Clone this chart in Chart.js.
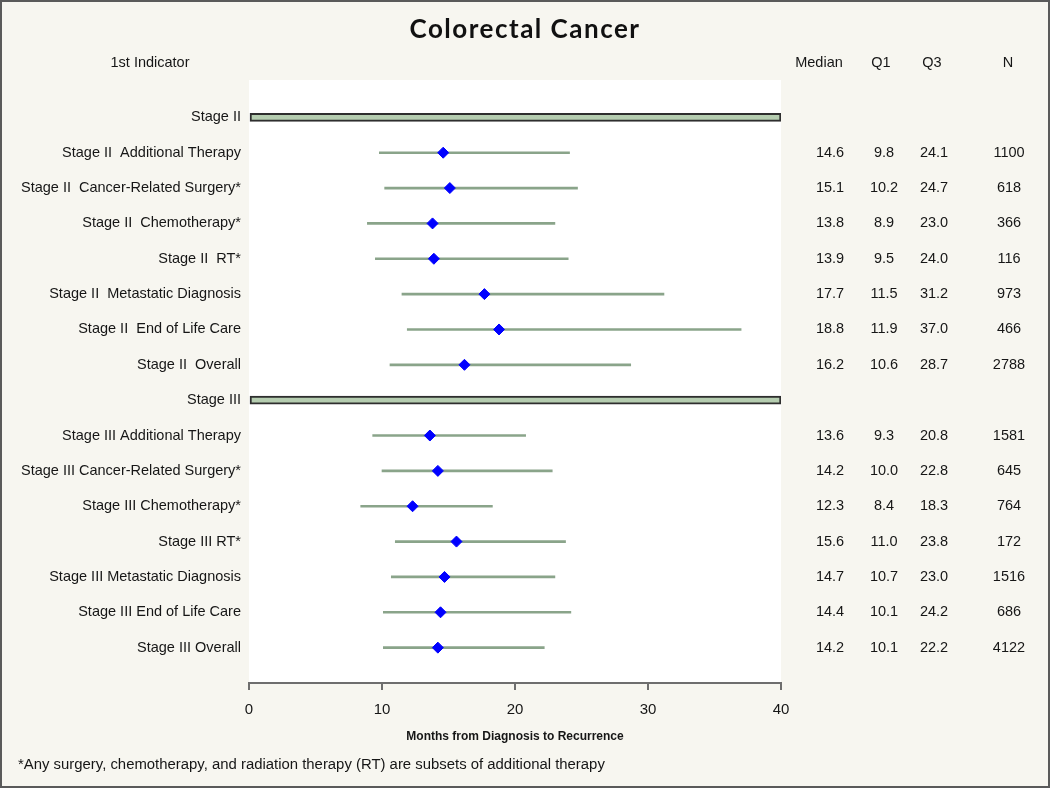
<!DOCTYPE html>
<html>
<head>
<meta charset="utf-8">
<title>Colorectal Cancer</title>
<script src="https://cdn.jsdelivr.net/npm/chart.js@4.4.1/dist/chart.umd.min.js"></script>
<style>
  html, body { margin: 0; padding: 0; background: #f7f6f0; }
  #wrap { width: 1050px; height: 788px; position: relative; }
</style>
</head>
<body>
<div id="wrap"><canvas id="forest"></canvas></div>
<script>
// rows from top to bottom; null median = stage header row
const rowLabels = [
  "Stage II",
  "Stage II  Additional Therapy",
  "Stage II  Cancer-Related Surgery*",
  "Stage II  Chemotherapy*",
  "Stage II  RT*",
  "Stage II  Metastatic Diagnosis",
  "Stage II  End of Life Care",
  "Stage II  Overall",
  "Stage III",
  "Stage III Additional Therapy",
  "Stage III Cancer-Related Surgery*",
  "Stage III Chemotherapy*",
  "Stage III RT*",
  "Stage III Metastatic Diagnosis",
  "Stage III End of Life Care",
  "Stage III Overall"
];
const medians = [null, 14.6, 15.1, 13.8, 13.9, 17.7, 18.8, 16.2, null, 13.6, 14.2, 12.3, 15.6, 14.7, 14.4, 14.2];
const q1Values = [null, 9.8, 10.2, 8.9, 9.5, 11.5, 11.9, 10.6, null, 9.3, 10.0, 8.4, 11.0, 10.7, 10.1, 10.1];
const q3Values = [null, 24.1, 24.7, 23.0, 24.0, 31.2, 37.0, 28.7, null, 20.8, 22.8, 18.3, 23.8, 23.0, 24.2, 22.2];
const nValues = [null, 1100, 618, 366, 116, 973, 466, 2788, null, 1581, 645, 764, 172, 1516, 686, 4122];
const xTicks = [0, 10, 20, 30, 40];

const labelFont = "Liberation Sans, Arial, sans-serif";
const textColor = "#161616";

const stageRows = [];
const whiskerData = [];
const medianData = [];
rowLabels.forEach((label, i) => {
  if (medians[i] === null) {
    stageRows.push(i);
  } else {
    whiskerData.push({ y: i, x: [q1Values[i], q3Values[i]] });
    medianData.push({ x: medians[i], y: i });
  }
});
const bandData = stageRows.map(i => ({ y: i, x: [xTicks[0], xTicks[xTicks.length - 1]] }));

// white plot box, title, table columns, header texts, footnote, frame
const forestExtras = {
  id: "forestExtras",
  beforeDraw(chart) {
    const { ctx, chartArea } = chart;
    ctx.save();
    ctx.fillStyle = "#f7f6f0";
    ctx.fillRect(0, 0, chart.width, chart.height);
    ctx.fillStyle = "#ffffff";
    ctx.fillRect(chartArea.left, chartArea.top - 2, chartArea.right - chartArea.left, chartArea.bottom - chartArea.top + 2);
    ctx.restore();
  },
  afterDraw(chart) {
    const { ctx, chartArea } = chart;
    const yScale = chart.scales.y;
    ctx.save();
    ctx.fillStyle = "#111";
    ctx.textBaseline = "middle";
    ctx.textAlign = "center";
    ctx.font = "bold 26px Lato, sans-serif";
    ctx.letterSpacing = "1.5px";
    ctx.fillText("Colorectal Cancer", chart.width / 2, 30);
    ctx.letterSpacing = "0px";

    ctx.fillStyle = textColor;
    ctx.font = "14.5px " + labelFont;
    ctx.fillText("1st Indicator", 150, 63);
    ctx.fillText("Median", 819, 63);
    ctx.fillText("Q1", 881, 63);
    ctx.fillText("Q3", 932, 63);
    ctx.fillText("N", 1008, 63);

    rowLabels.forEach((label, i) => {
      if (medians[i] === null) return;
      const y = yScale.getPixelForValue(i);
      ctx.fillText(medians[i].toFixed(1), 830, y);
      ctx.fillText(q1Values[i].toFixed(1), 884, y);
      ctx.fillText(q3Values[i].toFixed(1), 934, y);
      ctx.fillText(String(nValues[i]), 1009, y);
    });

    ctx.font = "bold 12px " + labelFont;
    ctx.fillText("Months from Diagnosis to Recurrence", (chartArea.left + chartArea.right) / 2, 737);

    ctx.textAlign = "left";
    ctx.font = "14.9px " + labelFont;
    ctx.fillText("*Any surgery, chemotherapy, and radiation therapy (RT) are subsets of additional therapy", 18, 765);

    ctx.strokeStyle = "#5a5a5a";
    ctx.lineWidth = 2;
    ctx.strokeRect(1, 1, chart.width - 2, chart.height - 2);
    ctx.restore();
  }
};

new Chart(document.getElementById("forest"), {
  type: "bar",
  data: {
    datasets: [
      {
        type: "scatter",
        indexAxis: "x",
        order: 0,
        data: medianData,
        pointStyle: "rectRot",
        pointRadius: 5.5,
        pointBackgroundColor: "#0000ff",
        pointBorderColor: "#0000ff",
        pointBorderWidth: 1
      },
      {
        type: "bar",
        indexAxis: "y",
        order: 1,
        grouped: false,
        data: whiskerData,
        barThickness: 2,
        backgroundColor: "#8aa48a",
        borderWidth: 0
      },
      {
        type: "bar",
        indexAxis: "y",
        order: 2,
        grouped: false,
        data: bandData,
        barThickness: 8,
        backgroundColor: "#b5cdb0",
        borderColor: "#2e2e2e",
        borderWidth: 2,
        borderSkipped: false
      }
    ]
  },
  options: {
    responsive: true,
    maintainAspectRatio: false,
    animation: false,
    layout: { padding: { left: 0, right: 269, top: 82, bottom: 35 } },
    plugins: {
      legend: { display: false },
      tooltip: { enabled: false },
      title: { display: false }
    },
    scales: {
      x: {
        type: "linear",
        position: "bottom",
        offset: false,
        min: xTicks[0],
        max: xTicks[xTicks.length - 1],
        afterBuildTicks: scale => { scale.ticks = xTicks.map(v => ({ value: v })); },
        afterFit: scale => { scale.height = 70; scale.paddingLeft = 0; scale.paddingRight = 0; },
        ticks: { color: textColor, font: { family: labelFont, size: 15 }, padding: 11 },
        grid: { display: true, offset: false, drawOnChartArea: false, drawTicks: true, tickLength: 7, color: "#6e6e6e", lineWidth: 2 },
        border: { display: true, color: "#6e6e6e", width: 2 }
      },
      y: {
        type: "linear",
        position: "left",
        offset: false,
        reverse: true,
        min: -1,
        max: rowLabels.length,
        afterBuildTicks: scale => { scale.ticks = rowLabels.map((l, i) => ({ value: i })); },
        afterFit: scale => { scale.width = 249; scale.paddingTop = 0; scale.paddingBottom = 0; },
        ticks: {
          autoSkip: false,
          color: textColor,
          font: { family: labelFont, size: 14.5 },
          padding: 8,
          callback: value => rowLabels[value]
        },
        grid: { display: false, offset: false, drawTicks: false },
        border: { display: false }
      }
    }
  },
  plugins: [forestExtras]
});
</script>
</body>
</html>
